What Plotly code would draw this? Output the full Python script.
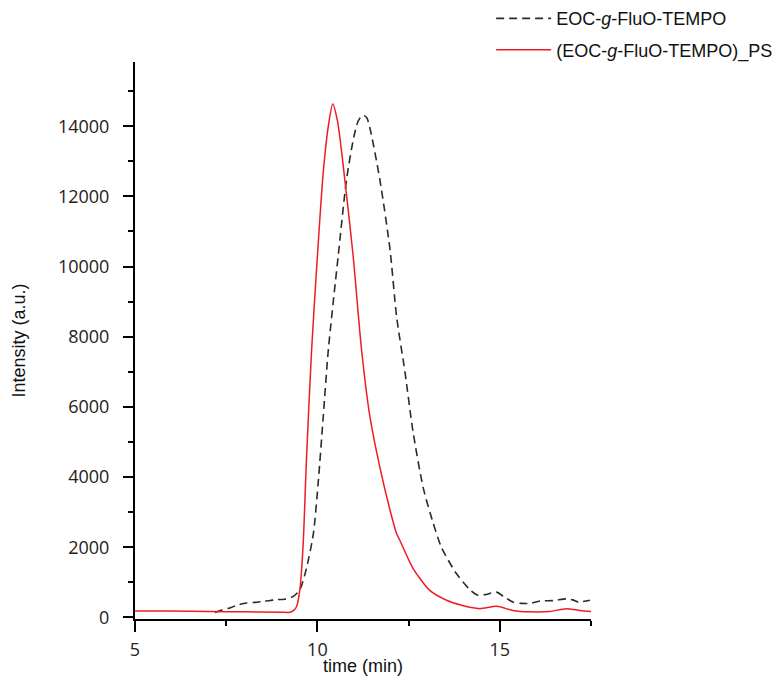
import plotly.graph_objects as go

# EOC-g-FluO-TEMPO (black dashed)
eoc_t = [7.19, 7.4, 7.6, 7.8, 8.06, 8.3, 8.51, 8.7, 8.88, 9.1, 9.34, 9.52, 9.70, 9.89, 10.02,
         10.16, 10.30, 10.57, 10.80, 11.0, 11.12, 11.24, 11.35, 11.45, 11.71, 11.99, 12.17, 12.40,
         12.62, 12.90, 13.17, 13.40, 13.81, 14.2, 14.4, 14.6, 14.91, 15.1, 15.36, 15.6, 15.82,
         16.1, 16.46, 16.83, 17.0, 17.15, 17.47]
eoc_i = [140, 220, 270, 350, 410, 430, 460, 480, 510, 520, 600, 790, 1400, 2390, 3820,
         5720, 7630, 10300, 12490, 13700, 14150, 14310, 14250, 13900, 12490, 10490, 8580, 7000,
         5300, 3700, 2700, 2000, 1250, 770, 630, 650, 720, 600, 440, 400, 400,
         470, 480, 530, 500, 440, 490]

# (EOC-g-FluO-TEMPO)_PS (red solid)
ps_t = [5.0, 6.0, 7.0, 8.0, 9.0, 9.25, 9.35, 9.43, 9.52, 9.61, 9.70, 9.84, 10.0, 10.16, 10.3,
        10.42, 10.55, 10.75, 10.98, 11.21, 11.44, 11.71, 11.99, 12.17, 12.26, 12.62, 13.08,
        13.54, 14.0, 14.45, 14.91, 15.36, 15.82, 16.37, 16.83, 17.2, 17.5]
ps_i = [180, 185, 170, 160, 150, 145, 200, 310, 800, 2100, 4500, 7600, 10300, 12680, 14000,
        14630, 14150, 12490, 10300, 7630, 5720, 4290, 3060, 2390, 2200, 1400, 770,
        490, 330, 250, 315, 200, 160, 170, 250, 200, 170]

x_ticks = [5, 10, 15]
y_ticks = [0, 2000, 4000, 6000, 8000, 10000, 12000, 14000]

fig = go.Figure()
fig.add_trace(go.Scatter(
    x=eoc_t, y=eoc_i, mode="lines", name="EOC-<i>g</i>-FluO-TEMPO",
    line=dict(color="#2b2b2b", width=1.6, dash="8px,5px", shape="spline", smoothing=0.7),
    legendgroup="a"))
fig.add_trace(go.Scatter(
    x=ps_t, y=ps_i, mode="lines", name="(EOC-<i>g</i>-FluO-TEMPO)_PS",
    line=dict(color="#ee1c25", width=1.5, shape="spline", smoothing=0.7),
    legendgroup="b"))

tickfont = dict(family="Open Sans", size=18, color="#222")
titlefont = dict(family="Liberation Sans, Arial", size=18, color="#111")

fig.update_layout(
    width=779, height=676,
    margin=dict(l=135, r=188, t=62, b=57, autoexpand=False),
    paper_bgcolor="white", plot_bgcolor="white",
    showlegend=True,
    legend=dict(x=0.781, y=1.111, xanchor="left", yanchor="top",
                font=dict(family="Liberation Sans, Arial", size=18, color="#111"),
                bgcolor="rgba(0,0,0,0)", tracegroupgap=5, itemwidth=55),
    xaxis=dict(
        range=[5, 17.5], tickvals=x_ticks, ticktext=[str(v) for v in x_ticks],
        showline=True, linecolor="black", linewidth=2, showgrid=False, zeroline=False,
        ticks="outside", ticklen=11, tickwidth=2, tickcolor="black",
        minor=dict(dtick=2.5, tick0=5, ticks="outside", ticklen=5, tickwidth=2, tickcolor="black"),
        tickfont=tickfont, ticklabelstandoff=2, automargin=False,
        title=dict(text="time (min)", font=titlefont, standoff=4),
    ),
    yaxis=dict(
        range=[-45, 15830], tickvals=y_ticks, ticktext=[str(v) for v in y_ticks],
        showline=True, linecolor="black", linewidth=2, showgrid=False, zeroline=False,
        ticks="outside", ticklen=10, tickwidth=2, tickcolor="black",
        minor=dict(dtick=1000, tick0=0, ticks="outside", ticklen=5, tickwidth=2, tickcolor="black"),
        tickfont=tickfont, ticklabelstandoff=10, automargin=False,
        title=dict(text="Intensity (a.u.)", font=titlefont, standoff=28),
    ),
)
fig.write_html("out.html")
